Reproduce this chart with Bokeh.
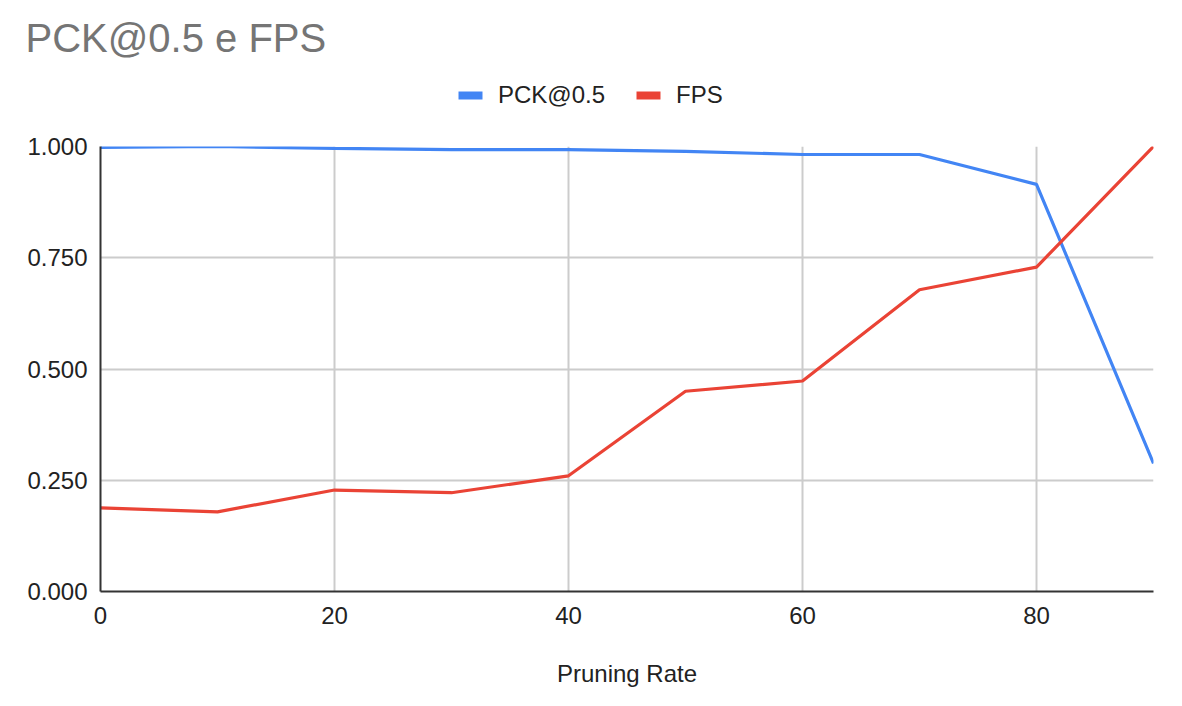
from bokeh.plotting import figure
from bokeh.layouts import column
from bokeh.models import Legend, LegendItem, FixedTicker, Range1d, NumeralTickFormatter, Label
from bokeh.embed import file_html
from bokeh.resources import INLINE

pruning_rate = [0, 10, 20, 30, 40, 50, 60, 70, 80, 90]
pck = [0.998, 1.0, 0.996, 0.993, 0.993, 0.989, 0.982, 0.982, 0.915, 0.288]
fps = [0.188, 0.179, 0.228, 0.222, 0.260, 0.450, 0.473, 0.678, 0.729, 1.0]
x_ticks = [0, 20, 40, 60, 80]
y_ticks = [0, 0.25, 0.5, 0.75, 1.0]
series_names = ["PCK@0.5", "FPS"]
title_text = "PCK@0.5 e FPS"

FONT = "Liberation Sans"
BLUE = "#4285F4"
RED = "#EA4335"
W, H_HEAD, H_MAIN = 1182, 130, 576

# ---------- header: title + legend ----------
head = figure(width=W, height=H_HEAD, output_backend="svg", toolbar_location=None,
              x_range=Range1d(0, W), y_range=Range1d(0, H_HEAD),
              x_axis_location=None, y_axis_location=None, title_location=None,
              min_border=0, min_border_left=0, min_border_right=0,
              min_border_top=0, min_border_bottom=0)
head.grid.visible = False
head.outline_line_color = None
head.border_fill_color = "white"
head.background_fill_color = "white"

head.add_layout(Label(x=25, y=93, text=title_text, text_font=FONT, text_font_size="40px",
                      text_color="#757575", text_baseline="alphabetic"))

# swatch renderers for the legend (their single point lies outside the visible header area)
d1 = head.rect([-500], [-500], width=1, height=1, fill_color=BLUE, line_color=None)
d2 = head.rect([-500], [-500], width=1, height=1, fill_color=RED, line_color=None)
legend = Legend(items=[LegendItem(label=series_names[0], renderers=[d1]),
                       LegendItem(label=series_names[1], renderers=[d2])],
                orientation="horizontal", location=(455, 21))
legend.label_text_font = FONT
legend.label_text_font_size = "24px"
legend.label_text_color = "#222222"
legend.glyph_width = 30
legend.glyph_height = 10
legend.label_standoff = 13
legend.spacing = 28
legend.border_line_color = None
legend.background_fill_alpha = 0
legend.padding = 0
legend.margin = 0
head.add_layout(legend)

# ---------- main chart ----------
p = figure(width=W, height=H_MAIN, output_backend="svg", toolbar_location=None,
           x_range=Range1d(0, 90), y_range=Range1d(0, 1),
           min_border_left=100, min_border_right=29, min_border_top=16, min_border_bottom=115)
p.outline_line_color = None
p.background_fill_color = "white"
p.border_fill_color = "white"

p.line(pruning_rate, pck, line_color=BLUE, line_width=3.2)
p.line(pruning_rate, fps, line_color=RED, line_width=3.2)

for ax in (p.xaxis[0], p.yaxis[0]):
    ax.major_label_text_font = FONT
    ax.major_label_text_font_size = "24px"
    ax.major_label_text_color = "#222222"
    ax.major_tick_line_color = None
    ax.minor_tick_line_color = None
    ax.axis_line_color = "#333333"
    ax.axis_line_width = 2

p.xaxis.ticker = FixedTicker(ticks=x_ticks)
p.yaxis.ticker = FixedTicker(ticks=y_ticks)
p.yaxis.formatter = NumeralTickFormatter(format="0.000")
p.xaxis.major_label_standoff = 9
p.yaxis.major_label_standoff = 7

p.xaxis.axis_label = "Pruning Rate"
p.xaxis.axis_label_text_font = FONT
p.xaxis.axis_label_text_font_size = "24px"
p.xaxis.axis_label_text_font_style = "normal"
p.xaxis.axis_label_text_color = "#222222"
p.xaxis.axis_label_standoff = 33

p.xgrid.ticker = FixedTicker(ticks=x_ticks)
p.ygrid.ticker = FixedTicker(ticks=y_ticks)
p.grid.grid_line_color = "#cccccc"
p.grid.grid_line_width = 2

# keep the header's frame independent of the chart's frame
for fig in (head, p):
    try:
        fig.frame_align = False
    except Exception:
        pass

layout = column(head, p, spacing=0)
open("out.html", "w").write(file_html(layout, INLINE))
